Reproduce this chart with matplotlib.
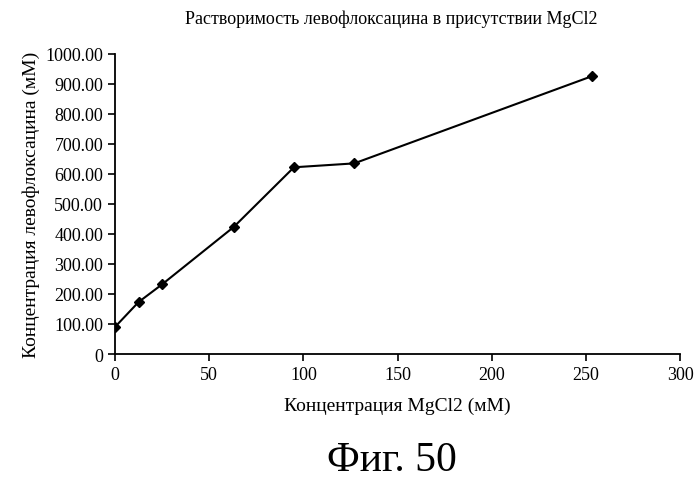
import matplotlib.pyplot as plt

# MgCl2 concentration (mM) vs levofloxacin solubility (mM)
mgcl2 = [0, 12.5, 25, 63, 95, 127, 253]
levo = [90, 173, 232, 423, 622, 635, 925]
y_ticks = [0, 100, 200, 300, 400, 500, 600, 700, 800, 900, 1000]
y_labels = ['0'] + ['%.2f' % v for v in y_ticks[1:]]

plt.rcParams['font.family'] = 'Liberation Serif'

fig = plt.figure(figsize=(6.99, 4.85), dpi=100)
ax = fig.add_axes([0.1645, 0.268, 0.8085, 0.619])
ax.plot(mgcl2, levo, color='black', lw=1.5, marker='D', ms=5)
ax.set_xlim(0, 300)
ax.set_ylim(0, 1000)
ax.set_xticks(range(0, 301, 50))
ax.set_yticks(y_ticks)
ax.set_yticklabels(y_labels)
ax.tick_params(labelsize=13, direction='out', length=5, width=1.2)
ax.spines['top'].set_visible(False)
ax.spines['right'].set_visible(False)
ax.spines['left'].set_linewidth(1.3)
ax.spines['bottom'].set_linewidth(1.3)
ax.set_xlabel('Концентрация MgCl2 (мМ)', fontsize=14, labelpad=10)
ax.set_ylabel('Концентрация левофлоксацина (мМ)', fontsize=14, labelpad=4)
fig.text(0.56, 0.96, 'Растворимость левофлоксацина в присутствии MgCl2',
         ha='center', va='center', fontsize=13)
fig.text(0.56, 0.05, 'Фиг. 50', ha='center', va='center', fontsize=30)
fig.savefig('out.png')
